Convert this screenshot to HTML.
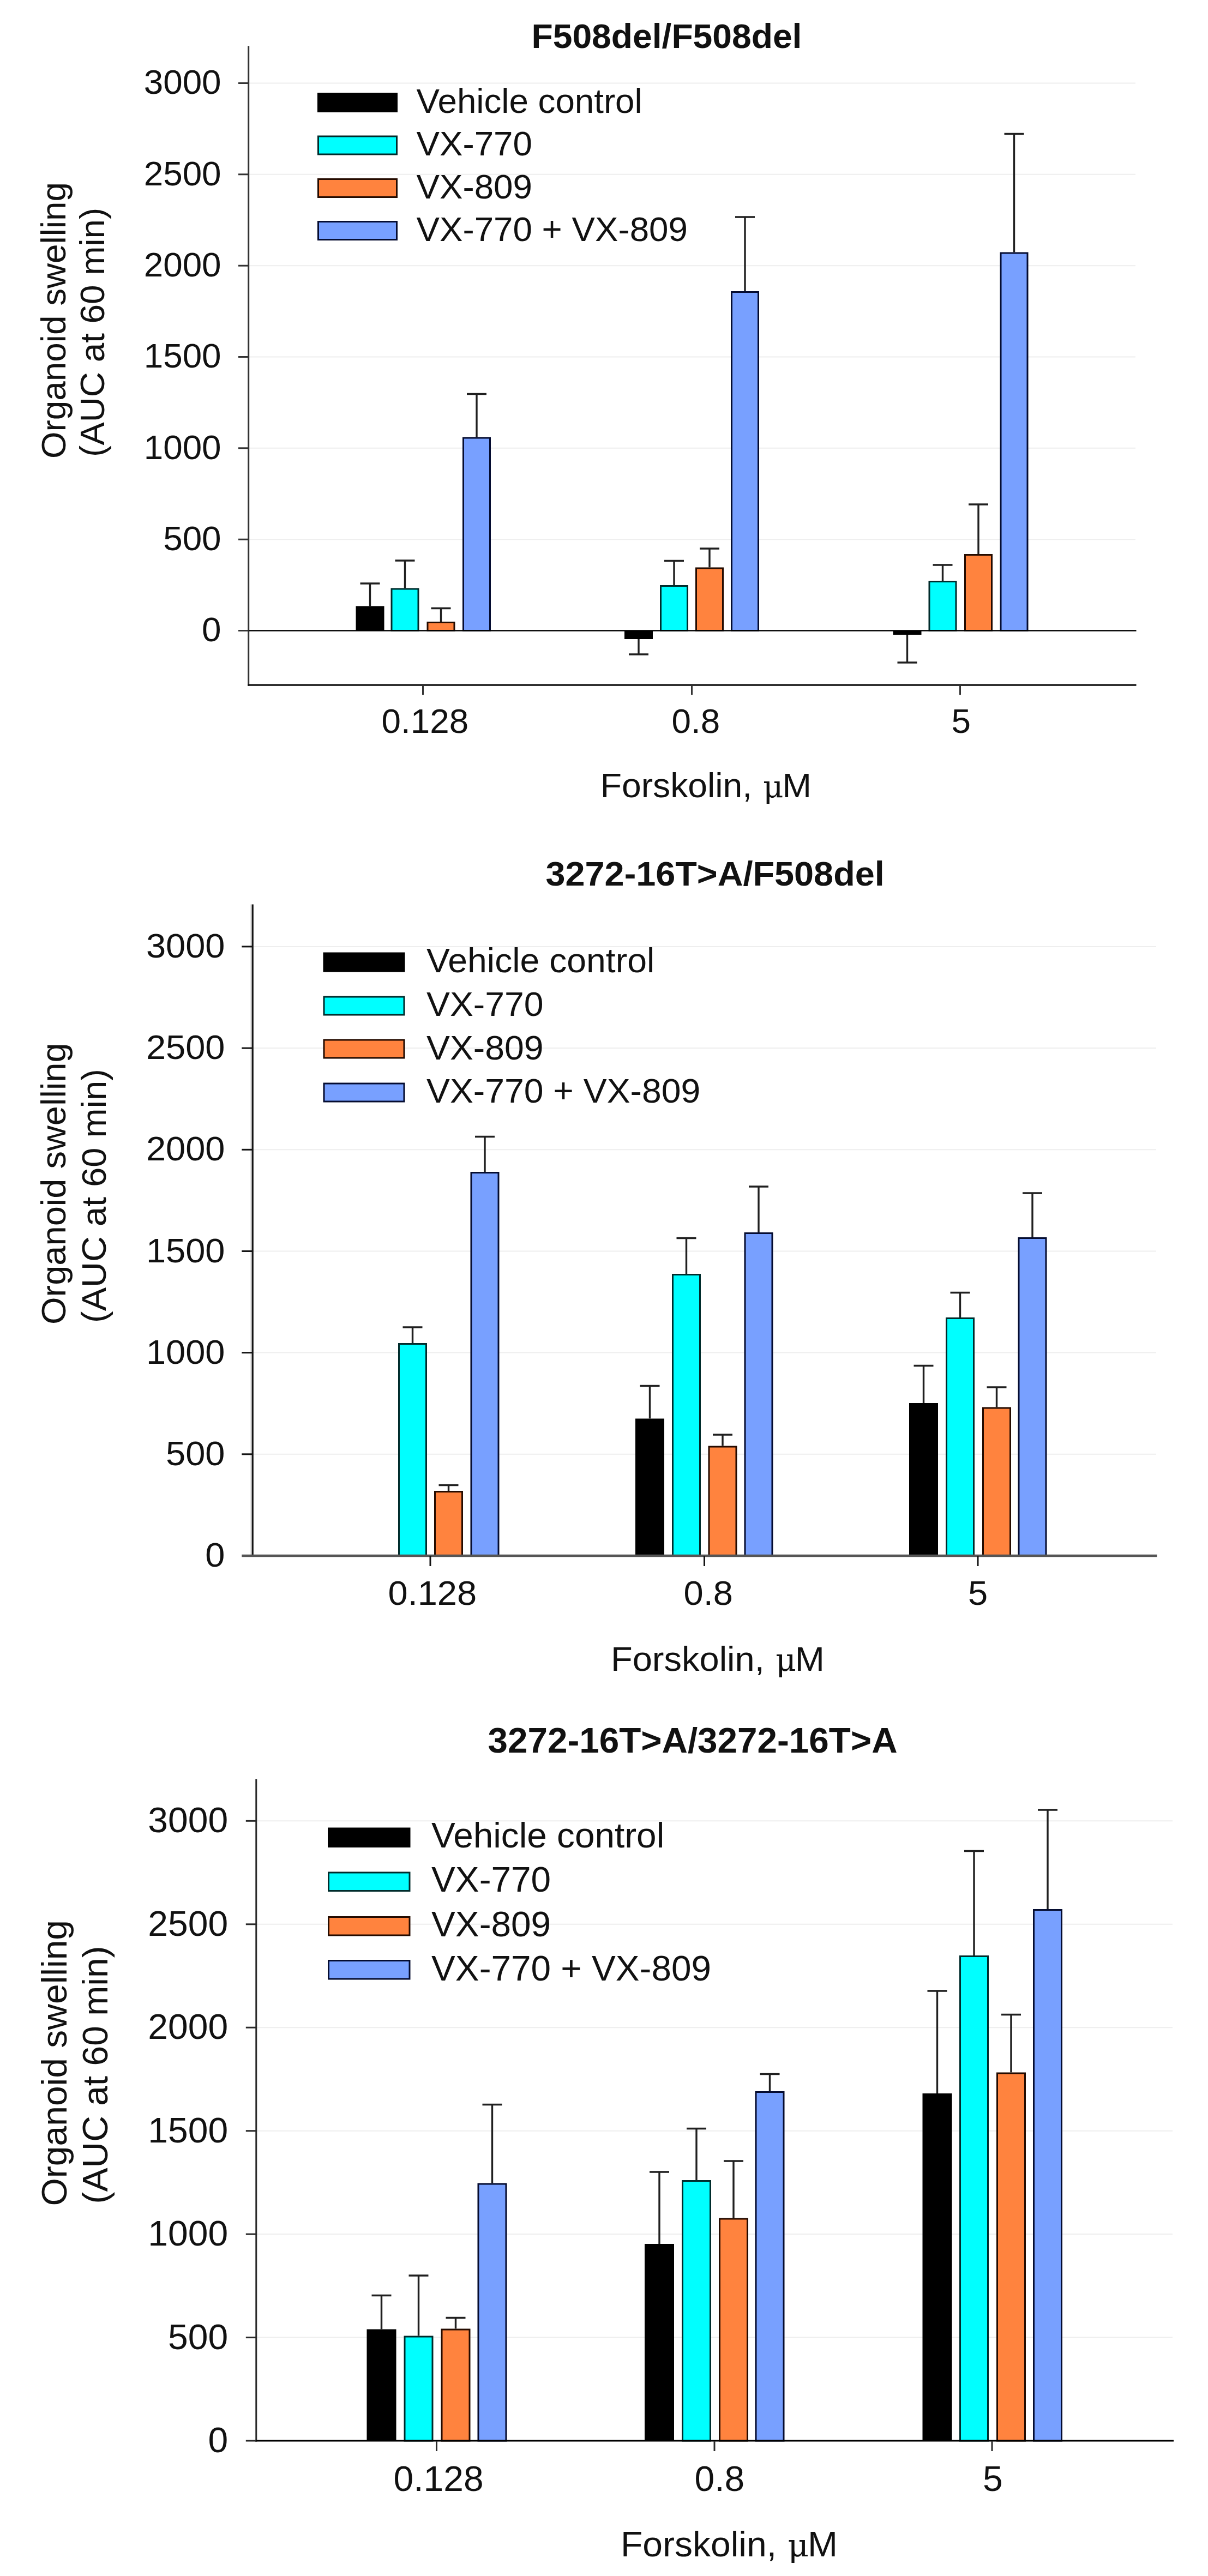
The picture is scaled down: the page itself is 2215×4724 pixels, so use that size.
<!DOCTYPE html>
<html lang="en"><head><meta charset="utf-8"><title>Organoid swelling</title>
<style>html,body{margin:0;padding:0;background:#fff}svg{display:block}text{font-family:'Liberation Sans', sans-serif;fill:#111}</style>
</head><body>
<svg width="2215" height="4724" viewBox="0 0 2215 4724">
<rect width="2215" height="4724" fill="#fff"/>
<g>
<line x1="455.7" y1="989.2" x2="2082" y2="989.2" stroke="#eeeeee" stroke-width="2"/>
<line x1="455.7" y1="821.8" x2="2082" y2="821.8" stroke="#eeeeee" stroke-width="2"/>
<line x1="455.7" y1="654.5" x2="2082" y2="654.5" stroke="#eeeeee" stroke-width="2"/>
<line x1="455.7" y1="487.2" x2="2082" y2="487.2" stroke="#eeeeee" stroke-width="2"/>
<line x1="455.7" y1="319.8" x2="2082" y2="319.8" stroke="#eeeeee" stroke-width="2"/>
<line x1="455.7" y1="152.5" x2="2082" y2="152.5" stroke="#eeeeee" stroke-width="2"/>
<rect x="652.5" y="1111.5" width="52" height="45.0" fill="#000000"/>
<path d="M678.5 1111.5V1070.0M660.5 1070.0H696.5" stroke="#202020" stroke-width="3.4" fill="none"/>
<rect x="718.0" y="1080.0" width="49.0" height="76.5" fill="#00ffff" stroke="#002c2c" stroke-width="3"/>
<path d="M742.5 1078.5V1028.0M724.5 1028.0H760.5" stroke="#202020" stroke-width="3.4" fill="none"/>
<rect x="784.0" y="1141.5" width="49.0" height="15.0" fill="#ff833e" stroke="#240b00" stroke-width="3"/>
<path d="M808.5 1140.0V1115.5M790.5 1115.5H826.5" stroke="#202020" stroke-width="3.4" fill="none"/>
<rect x="849.5" y="803.0" width="49.0" height="353.5" fill="#78a0ff" stroke="#050c30" stroke-width="3"/>
<path d="M874.0 801.5V722.5M856.0 722.5H892.0" stroke="#202020" stroke-width="3.4" fill="none"/>
<rect x="1145.0" y="1156.5" width="52" height="15.5" fill="#000000"/>
<path d="M1171.0 1172.0V1200.0M1153.0 1200.0H1189.0" stroke="#202020" stroke-width="3.4" fill="none"/>
<rect x="1211.5" y="1074.5" width="49.0" height="82.0" fill="#00ffff" stroke="#002c2c" stroke-width="3"/>
<path d="M1236.0 1073.0V1028.5M1218.0 1028.5H1254.0" stroke="#202020" stroke-width="3.4" fill="none"/>
<rect x="1276.5" y="1042.0" width="49.0" height="114.5" fill="#ff833e" stroke="#240b00" stroke-width="3"/>
<path d="M1301.0 1040.5V1006.0M1283.0 1006.0H1319.0" stroke="#202020" stroke-width="3.4" fill="none"/>
<rect x="1341.5" y="535.5" width="49.0" height="621.0" fill="#78a0ff" stroke="#050c30" stroke-width="3"/>
<path d="M1366.0 534.0V398.0M1348.0 398.0H1384.0" stroke="#202020" stroke-width="3.4" fill="none"/>
<rect x="1637.5" y="1156.5" width="52" height="7.5" fill="#000000"/>
<path d="M1663.5 1164.0V1215.0M1645.5 1215.0H1681.5" stroke="#202020" stroke-width="3.4" fill="none"/>
<rect x="1704.0" y="1066.5" width="49.0" height="90.0" fill="#00ffff" stroke="#002c2c" stroke-width="3"/>
<path d="M1728.5 1065.0V1036.0M1710.5 1036.0H1746.5" stroke="#202020" stroke-width="3.4" fill="none"/>
<rect x="1769.5" y="1017.5" width="49.0" height="139.0" fill="#ff833e" stroke="#240b00" stroke-width="3"/>
<path d="M1794.0 1016.0V925.0M1776.0 925.0H1812.0" stroke="#202020" stroke-width="3.4" fill="none"/>
<rect x="1835.0" y="464.0" width="49.0" height="692.5" fill="#78a0ff" stroke="#050c30" stroke-width="3"/>
<path d="M1859.5 462.5V245.5M1841.5 245.5H1877.5" stroke="#202020" stroke-width="3.4" fill="none"/>
<line x1="455.7" y1="84.2" x2="455.7" y2="1257.7" stroke="#333333" stroke-width="3"/>
<line x1="454.2" y1="1256.2" x2="2083.5" y2="1256.2" stroke="#0a0a0a" stroke-width="3"/>
<line x1="455.7" y1="1156.5" x2="2083.5" y2="1156.5" stroke="#000" stroke-width="2.6"/>
<line x1="437" y1="1156.5" x2="455.7" y2="1156.5" stroke="#333333" stroke-width="3"/>
<text transform="translate(405.6 1176.3) scale(1 0.975)" font-size="63.8" text-anchor="end">0</text>
<line x1="437" y1="989.2" x2="455.7" y2="989.2" stroke="#333333" stroke-width="3"/>
<text transform="translate(405.6 1009.0) scale(1 0.975)" font-size="63.8" text-anchor="end">500</text>
<line x1="437" y1="821.8" x2="455.7" y2="821.8" stroke="#333333" stroke-width="3"/>
<text transform="translate(405.6 841.6) scale(1 0.975)" font-size="63.8" text-anchor="end">1000</text>
<line x1="437" y1="654.5" x2="455.7" y2="654.5" stroke="#333333" stroke-width="3"/>
<text transform="translate(405.6 674.3) scale(1 0.975)" font-size="63.8" text-anchor="end">1500</text>
<line x1="437" y1="487.2" x2="455.7" y2="487.2" stroke="#333333" stroke-width="3"/>
<text transform="translate(405.6 507.0) scale(1 0.975)" font-size="63.8" text-anchor="end">2000</text>
<line x1="437" y1="319.8" x2="455.7" y2="319.8" stroke="#333333" stroke-width="3"/>
<text transform="translate(405.6 339.6) scale(1 0.975)" font-size="63.8" text-anchor="end">2500</text>
<line x1="437" y1="152.5" x2="455.7" y2="152.5" stroke="#333333" stroke-width="3"/>
<text transform="translate(405.6 172.3) scale(1 0.975)" font-size="63.8" text-anchor="end">3000</text>
<line x1="775.5" y1="1256.2" x2="775.5" y2="1274.2" stroke="#333333" stroke-width="3"/>
<text transform="translate(699.5 1344.0) scale(1 0.975)" font-size="63.8" text-anchor="start">0.128</text>
<line x1="1268.5" y1="1256.2" x2="1268.5" y2="1274.2" stroke="#333333" stroke-width="3"/>
<text transform="translate(1231.5 1344.0) scale(1 0.975)" font-size="63.8" text-anchor="start">0.8</text>
<line x1="1760.5" y1="1256.2" x2="1760.5" y2="1274.2" stroke="#333333" stroke-width="3"/>
<text transform="translate(1744.5 1344.0) scale(1 0.975)" font-size="63.8" text-anchor="start">5</text>
<text transform="translate(1100.8 1461.5) scale(1 0.975)" font-size="64.2">Forskolin, <tspan font-family="'DejaVu Serif', 'Liberation Serif', serif" font-size="57.8" dx="2.2">μ</tspan><tspan dx="-2.2">M</tspan></text>
<text transform="translate(974.5 87.5) scale(1 0.975)" font-size="64.2" font-weight="bold" text-anchor="start">F508del/F508del</text>
<text transform="translate(120.0 841.0) rotate(-90) scale(1 0.975)" font-size="63.8">Organoid swelling</text>
<text transform="translate(191.0 838.0) rotate(-90) scale(1 0.975)" font-size="63.8">(AUC at 60 min)</text>
<rect x="582" y="170" width="147" height="36" fill="#000000"/>
<text transform="translate(763.5 206.5) scale(1 0.975)" font-size="63.7" text-anchor="start">Vehicle control</text>
<rect x="583.5" y="250.0" width="144" height="33" fill="#00ffff" stroke="#002c2c" stroke-width="3"/>
<text transform="translate(763.5 285.0) scale(1 0.975)" font-size="63.7" text-anchor="start">VX-770</text>
<rect x="583.5" y="328.5" width="144" height="33" fill="#ff833e" stroke="#240b00" stroke-width="3"/>
<text transform="translate(763.5 363.5) scale(1 0.975)" font-size="63.7" text-anchor="start">VX-809</text>
<rect x="583.5" y="406.5" width="144" height="33" fill="#78a0ff" stroke="#050c30" stroke-width="3"/>
<text transform="translate(763.5 442.0) scale(1 0.975)" font-size="63.7" text-anchor="start">VX-770 + VX-809</text>
</g>
<g>
<line x1="463.3" y1="2666.8" x2="2120" y2="2666.8" stroke="#eeeeee" stroke-width="2"/>
<line x1="463.3" y1="2480.6" x2="2120" y2="2480.6" stroke="#eeeeee" stroke-width="2"/>
<line x1="463.3" y1="2294.5" x2="2120" y2="2294.5" stroke="#eeeeee" stroke-width="2"/>
<line x1="463.3" y1="2108.3" x2="2120" y2="2108.3" stroke="#eeeeee" stroke-width="2"/>
<line x1="463.3" y1="1922.1" x2="2120" y2="1922.1" stroke="#eeeeee" stroke-width="2"/>
<line x1="463.3" y1="1735.9" x2="2120" y2="1735.9" stroke="#eeeeee" stroke-width="2"/>
<rect x="731.5" y="2464.5" width="50.0" height="388.5" fill="#00ffff" stroke="#002c2c" stroke-width="3"/>
<path d="M756.5 2463.0V2434.0M738.5 2434.0H774.5" stroke="#202020" stroke-width="3.4" fill="none"/>
<rect x="797.5" y="2735.5" width="50.0" height="117.5" fill="#ff833e" stroke="#240b00" stroke-width="3"/>
<path d="M822.5 2734.0V2723.5M804.5 2723.5H840.5" stroke="#202020" stroke-width="3.4" fill="none"/>
<rect x="864.0" y="2150.5" width="50.0" height="702.5" fill="#78a0ff" stroke="#050c30" stroke-width="3"/>
<path d="M889.0 2149.0V2084.5M871.0 2084.5H907.0" stroke="#202020" stroke-width="3.4" fill="none"/>
<rect x="1165.0" y="2601.5" width="53" height="251.5" fill="#000000"/>
<path d="M1191.5 2601.5V2541.5M1173.5 2541.5H1209.5" stroke="#202020" stroke-width="3.4" fill="none"/>
<rect x="1233.5" y="2337.5" width="50.0" height="515.5" fill="#00ffff" stroke="#002c2c" stroke-width="3"/>
<path d="M1258.5 2336.0V2270.5M1240.5 2270.5H1276.5" stroke="#202020" stroke-width="3.4" fill="none"/>
<rect x="1300.0" y="2653.0" width="50.0" height="200.0" fill="#ff833e" stroke="#240b00" stroke-width="3"/>
<path d="M1325.0 2651.5V2631.0M1307.0 2631.0H1343.0" stroke="#202020" stroke-width="3.4" fill="none"/>
<rect x="1366.0" y="2261.5" width="50.0" height="591.5" fill="#78a0ff" stroke="#050c30" stroke-width="3"/>
<path d="M1391.0 2260.0V2176.0M1373.0 2176.0H1409.0" stroke="#202020" stroke-width="3.4" fill="none"/>
<rect x="1667.0" y="2573.0" width="53" height="280.0" fill="#000000"/>
<path d="M1693.5 2573.0V2504.5M1675.5 2504.5H1711.5" stroke="#202020" stroke-width="3.4" fill="none"/>
<rect x="1735.5" y="2417.5" width="50.0" height="435.5" fill="#00ffff" stroke="#002c2c" stroke-width="3"/>
<path d="M1760.5 2416.0V2370.5M1742.5 2370.5H1778.5" stroke="#202020" stroke-width="3.4" fill="none"/>
<rect x="1802.5" y="2582.0" width="50.0" height="271.0" fill="#ff833e" stroke="#240b00" stroke-width="3"/>
<path d="M1827.5 2580.5V2544.0M1809.5 2544.0H1845.5" stroke="#202020" stroke-width="3.4" fill="none"/>
<rect x="1868.0" y="2270.5" width="50.0" height="582.5" fill="#78a0ff" stroke="#050c30" stroke-width="3"/>
<path d="M1893.0 2269.0V2188.0M1875.0 2188.0H1911.0" stroke="#202020" stroke-width="3.4" fill="none"/>
<line x1="460.7" y1="1658.6" x2="460.7" y2="2853" stroke="#c4c4c4" stroke-width="2.2"/>
<line x1="463.3" y1="1658.6" x2="463.3" y2="2854.5" stroke="#141414" stroke-width="3"/>
<line x1="443.3" y1="2853" x2="2121.5" y2="2853" stroke="#555555" stroke-width="4.4"/>
<text transform="translate(412.5 2873.1) scale(1 0.975)" font-size="65" text-anchor="end">0</text>
<line x1="443.3" y1="2666.8" x2="463.3" y2="2666.8" stroke="#141414" stroke-width="3"/>
<text transform="translate(412.5 2686.9) scale(1 0.975)" font-size="65" text-anchor="end">500</text>
<line x1="443.3" y1="2480.6" x2="463.3" y2="2480.6" stroke="#141414" stroke-width="3"/>
<text transform="translate(412.5 2500.7) scale(1 0.975)" font-size="65" text-anchor="end">1000</text>
<line x1="443.3" y1="2294.5" x2="463.3" y2="2294.5" stroke="#141414" stroke-width="3"/>
<text transform="translate(412.5 2314.6) scale(1 0.975)" font-size="65" text-anchor="end">1500</text>
<line x1="443.3" y1="2108.3" x2="463.3" y2="2108.3" stroke="#141414" stroke-width="3"/>
<text transform="translate(412.5 2128.4) scale(1 0.975)" font-size="65" text-anchor="end">2000</text>
<line x1="443.3" y1="1922.1" x2="463.3" y2="1922.1" stroke="#141414" stroke-width="3"/>
<text transform="translate(412.5 1942.2) scale(1 0.975)" font-size="65" text-anchor="end">2500</text>
<line x1="443.3" y1="1735.9" x2="463.3" y2="1735.9" stroke="#141414" stroke-width="3"/>
<text transform="translate(412.5 1756.0) scale(1 0.975)" font-size="65" text-anchor="end">3000</text>
<line x1="789" y1="2853" x2="789" y2="2872" stroke="#141414" stroke-width="3"/>
<text transform="translate(711.5 2943.0) scale(1 0.975)" font-size="65" text-anchor="start">0.128</text>
<line x1="1291.5" y1="2853" x2="1291.5" y2="2872" stroke="#141414" stroke-width="3"/>
<text transform="translate(1253.5 2943.0) scale(1 0.975)" font-size="65" text-anchor="start">0.8</text>
<line x1="1793" y1="2853" x2="1793" y2="2872" stroke="#141414" stroke-width="3"/>
<text transform="translate(1775.0 2943.0) scale(1 0.975)" font-size="65" text-anchor="start">5</text>
<text transform="translate(1120.0 3063.5) scale(1 0.975)" font-size="65">Forskolin, <tspan font-family="'DejaVu Serif', 'Liberation Serif', serif" font-size="58.5" dx="2.2">μ</tspan><tspan dx="-2.2">M</tspan></text>
<text transform="translate(1000.5 1623.5) scale(1 0.975)" font-size="64.8" font-weight="bold" text-anchor="start">3272-16T&gt;A/F508del</text>
<text transform="translate(120.3 2429.0) rotate(-90) scale(1 0.975)" font-size="65">Organoid swelling</text>
<text transform="translate(194.0 2426.0) rotate(-90) scale(1 0.975)" font-size="65">(AUC at 60 min)</text>
<rect x="592.5" y="1746.5" width="150" height="36" fill="#000000"/>
<text transform="translate(782.0 1783.0) scale(1 0.975)" font-size="64.3" text-anchor="start">Vehicle control</text>
<rect x="594.0" y="1828.0" width="147" height="33" fill="#00ffff" stroke="#002c2c" stroke-width="3"/>
<text transform="translate(782.0 1863.0) scale(1 0.975)" font-size="64.3" text-anchor="start">VX-770</text>
<rect x="594.0" y="1907.0" width="147" height="33" fill="#ff833e" stroke="#240b00" stroke-width="3"/>
<text transform="translate(782.0 1943.0) scale(1 0.975)" font-size="64.3" text-anchor="start">VX-809</text>
<rect x="594.0" y="1987.0" width="147" height="33" fill="#78a0ff" stroke="#050c30" stroke-width="3"/>
<text transform="translate(782.0 2021.5) scale(1 0.975)" font-size="64.3" text-anchor="start">VX-770 + VX-809</text>
</g>
<g>
<line x1="469.8" y1="4286.6" x2="2150" y2="4286.6" stroke="#eeeeee" stroke-width="2"/>
<line x1="469.8" y1="4097.1" x2="2150" y2="4097.1" stroke="#eeeeee" stroke-width="2"/>
<line x1="469.8" y1="3907.7" x2="2150" y2="3907.7" stroke="#eeeeee" stroke-width="2"/>
<line x1="469.8" y1="3718.2" x2="2150" y2="3718.2" stroke="#eeeeee" stroke-width="2"/>
<line x1="469.8" y1="3528.8" x2="2150" y2="3528.8" stroke="#eeeeee" stroke-width="2"/>
<line x1="469.8" y1="3339.3" x2="2150" y2="3339.3" stroke="#eeeeee" stroke-width="2"/>
<rect x="672.5" y="4271.5" width="54" height="204.5" fill="#000000"/>
<path d="M699.5 4271.5V4209.5M681.5 4209.5H717.5" stroke="#202020" stroke-width="3.4" fill="none"/>
<rect x="742.0" y="4285.0" width="51.0" height="191.0" fill="#00ffff" stroke="#002c2c" stroke-width="3"/>
<path d="M767.5 4283.5V4173.0M749.5 4173.0H785.5" stroke="#202020" stroke-width="3.4" fill="none"/>
<rect x="810.0" y="4272.0" width="51.0" height="204.0" fill="#ff833e" stroke="#240b00" stroke-width="3"/>
<path d="M835.5 4270.5V4250.5M817.5 4250.5H853.5" stroke="#202020" stroke-width="3.4" fill="none"/>
<rect x="877.0" y="4005.0" width="51.0" height="471.0" fill="#78a0ff" stroke="#050c30" stroke-width="3"/>
<path d="M902.5 4003.5V3859.5M884.5 3859.5H920.5" stroke="#202020" stroke-width="3.4" fill="none"/>
<rect x="1182.0" y="4115.0" width="54" height="361.0" fill="#000000"/>
<path d="M1209.0 4115.0V3983.0M1191.0 3983.0H1227.0" stroke="#202020" stroke-width="3.4" fill="none"/>
<rect x="1251.5" y="3999.5" width="51.0" height="476.5" fill="#00ffff" stroke="#002c2c" stroke-width="3"/>
<path d="M1277.0 3998.0V3903.5M1259.0 3903.5H1295.0" stroke="#202020" stroke-width="3.4" fill="none"/>
<rect x="1319.5" y="4069.0" width="51.0" height="407.0" fill="#ff833e" stroke="#240b00" stroke-width="3"/>
<path d="M1345.0 4067.5V3963.0M1327.0 3963.0H1363.0" stroke="#202020" stroke-width="3.4" fill="none"/>
<rect x="1386.0" y="3836.5" width="51.0" height="639.5" fill="#78a0ff" stroke="#050c30" stroke-width="3"/>
<path d="M1411.5 3835.0V3803.5M1393.5 3803.5H1429.5" stroke="#202020" stroke-width="3.4" fill="none"/>
<rect x="1691.5" y="3839.0" width="54" height="637.0" fill="#000000"/>
<path d="M1718.5 3839.0V3651.0M1700.5 3651.0H1736.5" stroke="#202020" stroke-width="3.4" fill="none"/>
<rect x="1760.5" y="3587.5" width="51.0" height="888.5" fill="#00ffff" stroke="#002c2c" stroke-width="3"/>
<path d="M1786.0 3586.0V3394.5M1768.0 3394.5H1804.0" stroke="#202020" stroke-width="3.4" fill="none"/>
<rect x="1828.5" y="3802.0" width="51.0" height="674.0" fill="#ff833e" stroke="#240b00" stroke-width="3"/>
<path d="M1854.0 3800.5V3694.5M1836.0 3694.5H1872.0" stroke="#202020" stroke-width="3.4" fill="none"/>
<rect x="1895.5" y="3502.5" width="51.0" height="973.5" fill="#78a0ff" stroke="#050c30" stroke-width="3"/>
<path d="M1921.0 3501.0V3319.0M1903.0 3319.0H1939.0" stroke="#202020" stroke-width="3.4" fill="none"/>
<line x1="469.8" y1="3262.4" x2="469.8" y2="4477.5" stroke="#2a2a2a" stroke-width="3"/>
<line x1="468.3" y1="4476" x2="2152" y2="4476" stroke="#000" stroke-width="3"/>
<line x1="450.8" y1="4476.0" x2="469.8" y2="4476.0" stroke="#2a2a2a" stroke-width="3"/>
<text transform="translate(418.1 4497.1) scale(1 0.975)" font-size="66" text-anchor="end">0</text>
<line x1="450.8" y1="4286.6" x2="469.8" y2="4286.6" stroke="#2a2a2a" stroke-width="3"/>
<text transform="translate(418.1 4307.7) scale(1 0.975)" font-size="66" text-anchor="end">500</text>
<line x1="450.8" y1="4097.1" x2="469.8" y2="4097.1" stroke="#2a2a2a" stroke-width="3"/>
<text transform="translate(418.1 4118.2) scale(1 0.975)" font-size="66" text-anchor="end">1000</text>
<line x1="450.8" y1="3907.7" x2="469.8" y2="3907.7" stroke="#2a2a2a" stroke-width="3"/>
<text transform="translate(418.1 3928.8) scale(1 0.975)" font-size="66" text-anchor="end">1500</text>
<line x1="450.8" y1="3718.2" x2="469.8" y2="3718.2" stroke="#2a2a2a" stroke-width="3"/>
<text transform="translate(418.1 3739.3) scale(1 0.975)" font-size="66" text-anchor="end">2000</text>
<line x1="450.8" y1="3528.8" x2="469.8" y2="3528.8" stroke="#2a2a2a" stroke-width="3"/>
<text transform="translate(418.1 3549.8) scale(1 0.975)" font-size="66" text-anchor="end">2500</text>
<line x1="450.8" y1="3339.3" x2="469.8" y2="3339.3" stroke="#2a2a2a" stroke-width="3"/>
<text transform="translate(418.1 3360.4) scale(1 0.975)" font-size="66" text-anchor="end">3000</text>
<line x1="800.5" y1="4476" x2="800.5" y2="4495" stroke="#2a2a2a" stroke-width="3"/>
<text transform="translate(721.5 4568.0) scale(1 0.975)" font-size="66" text-anchor="start">0.128</text>
<line x1="1310" y1="4476" x2="1310" y2="4495" stroke="#2a2a2a" stroke-width="3"/>
<text transform="translate(1273.5 4568.0) scale(1 0.975)" font-size="66" text-anchor="start">0.8</text>
<line x1="1819" y1="4476" x2="1819" y2="4495" stroke="#2a2a2a" stroke-width="3"/>
<text transform="translate(1802.0 4568.0) scale(1 0.975)" font-size="66" text-anchor="start">5</text>
<text transform="translate(1138.0 4688.0) scale(1 0.975)" font-size="66">Forskolin, <tspan font-family="'DejaVu Serif', 'Liberation Serif', serif" font-size="59.4" dx="2.2">μ</tspan><tspan dx="-2.2">M</tspan></text>
<text transform="translate(894.5 3213.5) scale(1 0.975)" font-size="65.6" font-weight="bold" text-anchor="start">3272-16T&gt;A/3272-16T&gt;A</text>
<text transform="translate(121.5 4045.5) rotate(-90) scale(1 0.975)" font-size="66">Organoid swelling</text>
<text transform="translate(196.5 4041.5) rotate(-90) scale(1 0.975)" font-size="66">(AUC at 60 min)</text>
<rect x="601" y="3351.5" width="151.5" height="36.5" fill="#000000"/>
<text transform="translate(791.0 3388.0) scale(1 0.975)" font-size="65.7" text-anchor="start">Vehicle control</text>
<rect x="602.5" y="3434.0" width="148.5" height="33.5" fill="#00ffff" stroke="#002c2c" stroke-width="3"/>
<text transform="translate(791.0 3469.0) scale(1 0.975)" font-size="65.7" text-anchor="start">VX-770</text>
<rect x="602.5" y="3515.5" width="148.5" height="33.5" fill="#ff833e" stroke="#240b00" stroke-width="3"/>
<text transform="translate(791.0 3551.0) scale(1 0.975)" font-size="65.7" text-anchor="start">VX-809</text>
<rect x="602.5" y="3595.5" width="148.5" height="33.5" fill="#78a0ff" stroke="#050c30" stroke-width="3"/>
<text transform="translate(791.0 3631.5) scale(1 0.975)" font-size="65.7" text-anchor="start">VX-770 + VX-809</text>
</g>
</svg></body></html>
